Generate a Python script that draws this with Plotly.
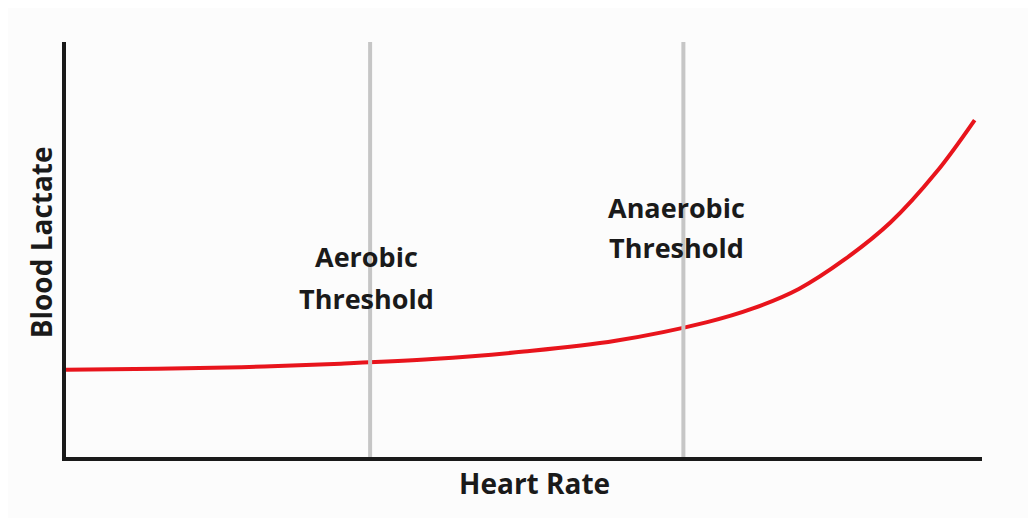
import plotly.graph_objects as go

# Curve data (arbitrary units: heart rate 0-100, blood lactate 0-10)
heart_rate = [0, 10, 20, 30, 40, 50, 60, 70, 75, 80, 85, 90, 95, 99.2]
blood_lactate = [2.10, 2.125, 2.17, 2.25, 2.36, 2.54, 2.80, 3.25, 3.58, 4.05, 4.76, 5.65, 6.86, 8.12]

# Threshold positions (heart rate units)
threshold_names = ["Aerobic", "Anaerobic"]
threshold_x = [33.2, 67.4]

x_title = "Heart Rate"
y_title = "Blood Lactate"

FONT = "Open Sans"
DARK = "#1a1a1a"

fig = go.Figure()

fig.add_trace(go.Scatter(
    x=heart_rate, y=blood_lactate, mode="lines",
    line=dict(color="#e8141c", width=4, shape="spline", smoothing=1.0),
    hoverinfo="skip", showlegend=False,
))

for tx in threshold_x:
    fig.add_trace(go.Scatter(
        x=[tx, tx], y=[0, 10], mode="lines",
        line=dict(color="#c6c6c6", width=4),
        hoverinfo="skip", showlegend=False,
    ))

label_font = dict(family=FONT, size=27, color=DARK, weight="bold")
label_pos = [(32.8, 4.82, 3.83), (66.7, 6.02, 5.04)]
for name, (lx, y1, y2) in zip(threshold_names, label_pos):
    fig.add_annotation(x=lx, y=y1, text=name, showarrow=False, font=label_font,
                       xanchor="center", yanchor="middle")
    fig.add_annotation(x=lx, y=y2, text="Threshold", showarrow=False, font=label_font,
                       xanchor="center", yanchor="middle")

title_font = dict(family=FONT, size=28, color=DARK, weight="bold")
fig.add_annotation(xref="paper", yref="paper", x=0.512, y=0, yshift=-26,
                   text=x_title, showarrow=False, font=title_font,
                   xanchor="center", yanchor="middle")
fig.add_annotation(xref="paper", yref="paper", x=0, xshift=-25.5, y=0.516,
                   text=y_title, showarrow=False, font=title_font, textangle=-90,
                   xanchor="center", yanchor="middle")

axis_common = dict(showticklabels=False, ticks="", showgrid=False, zeroline=False,
                   showline=True, linewidth=4, linecolor=DARK, fixedrange=True)

fig.update_layout(
    width=1028, height=510,
    margin=dict(l=57.5, r=54, t=34, b=61),
    paper_bgcolor="#fcfcfc", plot_bgcolor="#fcfcfc",
    xaxis=dict(range=[0, 100], **axis_common),
    yaxis=dict(range=[0, 10], **axis_common),
    showlegend=False,
)

fig.write_html("out.html", config={"displayModeBar": False})
